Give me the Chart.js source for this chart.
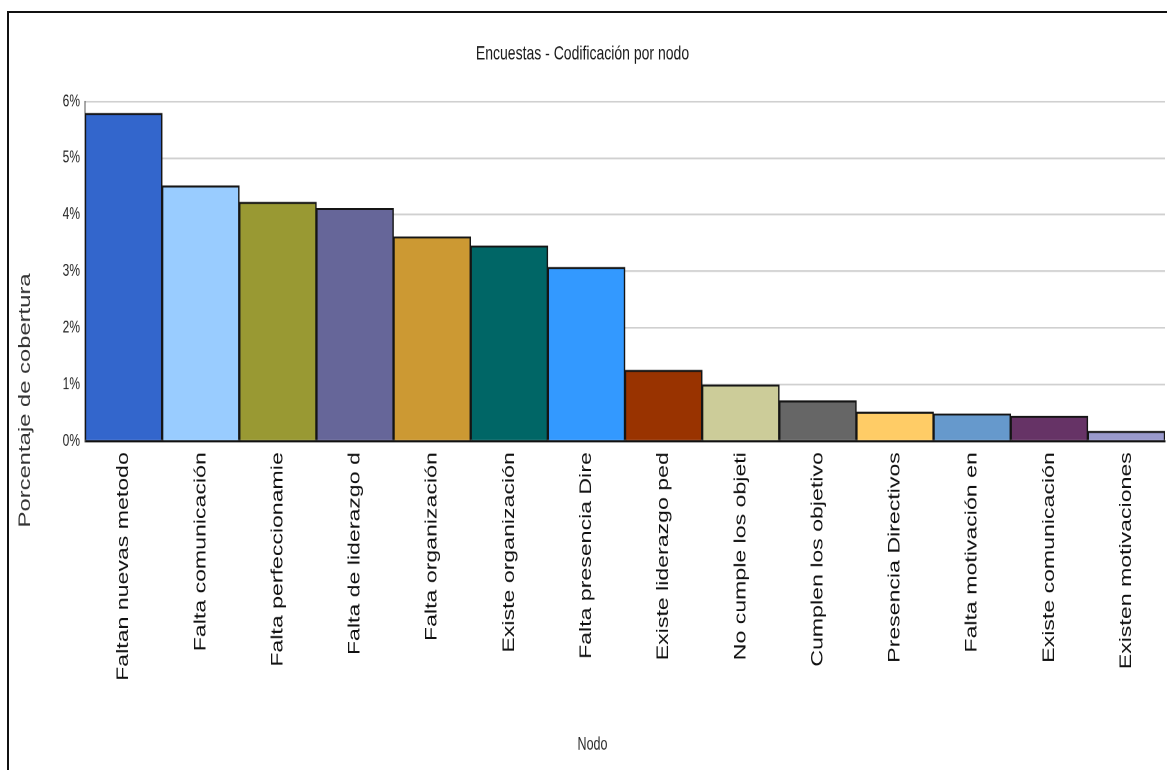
<!DOCTYPE html>
<html>
<head>
<meta charset="utf-8">
<script src="https://cdn.jsdelivr.net/npm/chart.js@4.4.1/dist/chart.umd.min.js"></script>
<style>
html,body{margin:0;padding:0;background:#fff;width:1167px;height:770px;overflow:hidden;}
#wrap{position:absolute;left:0;top:0;width:1167px;height:550px;transform:scaleY(1.4);transform-origin:0 0;}
.frame-top{position:absolute;left:7px;top:11px;width:1160px;height:2px;background:#111;}
.frame-left{position:absolute;left:7px;top:11px;width:2px;height:759px;background:#111;}
</style>
</head>
<body>
<div id="wrap"><canvas id="c"></canvas></div>
<div class="frame-top"></div>
<div class="frame-left"></div>
<script>
const chartTitle = 'Encuestas - Codificación por nodo';
const xAxisTitle = 'Nodo';
const yAxisTitle = 'Porcentaje de cobertura';

const categories = [
  'Faltan nuevas metodo',
  'Falta comunicación',
  'Falta perfeccionamie',
  'Falta de liderazgo d',
  'Falta organización',
  'Existe organización',
  'Falta presencia Dire',
  'Existe liderazgo ped',
  'No cumple los objeti',
  'Cumplen los objetivo',
  'Presencia Directivos',
  'Falta motivación en',
  'Existe comunicación',
  'Existen motivaciones'
];

const coverage = [5.79, 4.51, 4.22, 4.11, 3.61, 3.45, 3.07, 1.25, 0.99, 0.71, 0.51, 0.48, 0.44, 0.17];

const barColors = [
  '#3366cc', '#99ccff', '#999933', '#666699', '#cc9933', '#006666', '#3399ff',
  '#993300', '#cccc99', '#666666', '#ffcc66', '#6699cc', '#663366', '#9999cc'
];

const yTicks = [0, 1, 2, 3, 4, 5, 6];

const FONT = "'Liberation Sans', Arial, Helvetica, sans-serif";

const shiftXTitle = {
  id: 'shiftXTitle',
  beforeDraw(chart) {
    const s = chart.scales.x;
    if (s && !s.__patched) {
      const orig = s.drawTitle;
      s.drawTitle = function () {
        const dx = (chart.width / 2 + 9) - (this.left + this.right) / 2;
        this.ctx.save();
        this.ctx.translate(dx, 0);
        orig.call(this);
        this.ctx.restore();
      };
      s.__patched = true;
    }
  }
};

new Chart(document.getElementById('c'), {
  type: 'bar',
  data: {
    labels: categories,
    datasets: [{
      data: coverage,
      backgroundColor: barColors,
      borderColor: '#151515',
      borderWidth: 1.5,
      borderSkipped: 'start',
      barPercentage: 1,
      categoryPercentage: 1
    }]
  },
  options: {
    responsive: true,
    maintainAspectRatio: false,
    devicePixelRatio: 2,
    animation: false,
    layout: { padding: { top: 22, right: 2, bottom: 0, left: 0 } },
    plugins: {
      legend: { display: false },
      tooltip: { enabled: false },
      title: {
        display: true,
        text: chartTitle,
        color: '#1a1a1a',
        font: { family: FONT, size: 14, weight: 'normal' },
        padding: { top: 8, bottom: 25.7 }
      },
      subtitle: {
        display: true,
        position: 'left',
        text: yAxisTitle,
        color: '#333',
        font: { family: FONT, size: 17, weight: 'normal' },
        padding: { top: 15, bottom: 19.6 }
      }
    },
    scales: {
      x: {
        grid: { display: false, drawTicks: false },
        border: { display: true, color: '#111', width: 1.5 },
        ticks: {
          autoSkip: false,
          maxRotation: 90,
          minRotation: 90,
          padding: 8,
          color: '#111',
          font: { family: FONT, size: 16.5 }
        },
        title: {
          display: true,
          text: xAxisTitle,
          color: '#2a2a2a',
          font: { family: FONT, size: 12.5 },
          padding: { top: 0, bottom: 10.5 }
        },
        afterFit(scale) { scale.height = 235; }
      },
      y: {
        min: 0,
        max: 6,
        afterBuildTicks(scale) { scale.ticks = yTicks.map(v => ({ value: v })); },
        grid: { color: '#d0d0d0', lineWidth: 1.3, drawTicks: false },
        border: { display: true, color: '#555', width: 1 },
        ticks: {
          padding: 5,
          color: '#222',
          font: { family: FONT, size: 12 },
          callback: v => v + '%'
        },
        afterFit(scale) { scale.width = 30; }
      }
    }
  },
  plugins: [shiftXTitle]
});
</script>
</body>
</html>
